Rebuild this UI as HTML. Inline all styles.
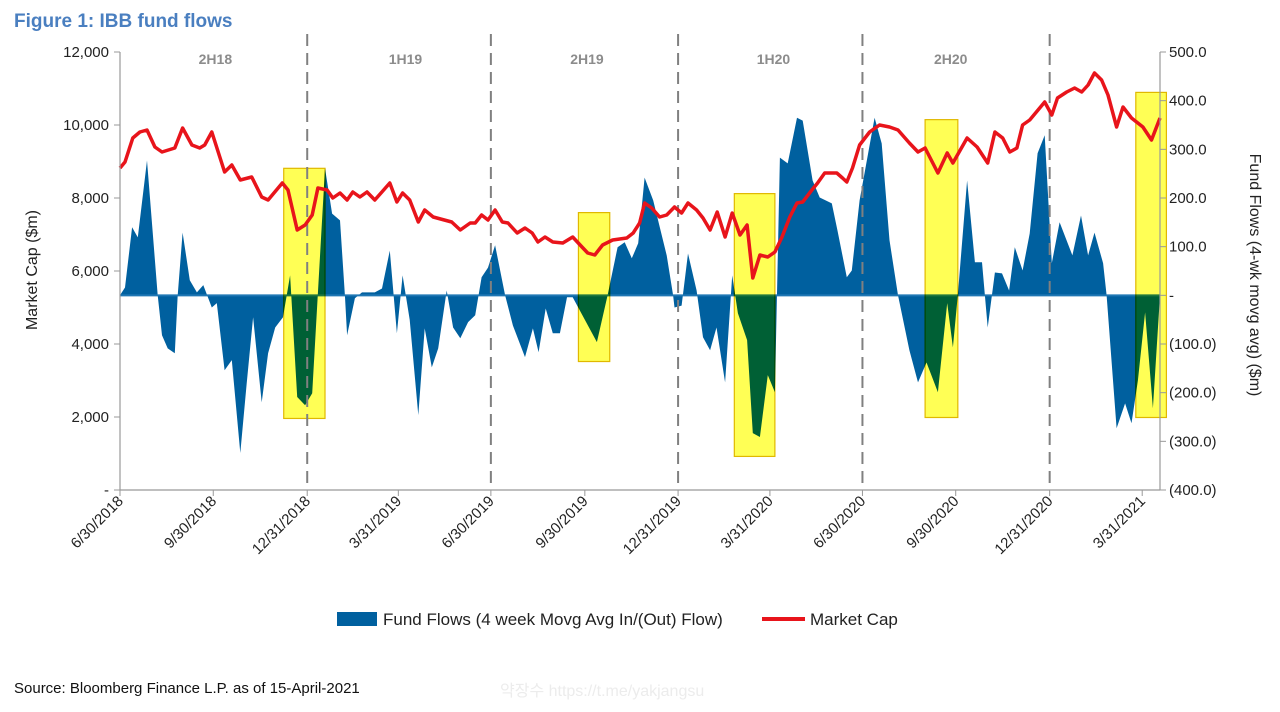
<!DOCTYPE html>
<html><head><meta charset="utf-8"><style>
body{margin:0;background:#fff;width:1280px;height:707px;overflow:hidden;font-family:"Liberation Sans",sans-serif}
</style></head><body>
<svg id="chart" width="1280" height="707" xmlns="http://www.w3.org/2000/svg">
<text x="14" y="27" font-family="Liberation Sans Narrow, Liberation Sans, sans-serif" font-weight="bold" font-size="19" fill="#4a7fc0">Figure 1: IBB fund flows</text>
<g id="plot"></g>
<text transform="translate(37,270) rotate(-90)" text-anchor="middle" font-size="16" fill="#222">Market Cap ($m)</text>
<text transform="translate(1250,275) rotate(90)" text-anchor="middle" font-size="16" fill="#222">Fund Flows (4-wk movg avg) ($m)</text>
<g>
<rect x="337" y="612" width="40" height="14" fill="#00609f"/>
<text x="383" y="625" font-size="17" fill="#222">Fund Flows (4 week Movg Avg In/(Out) Flow)</text>
<line x1="762" y1="619" x2="805" y2="619" stroke="#e8141b" stroke-width="4"/>
<text x="810" y="625" font-size="17" fill="#222">Market Cap</text>
</g>
<text x="14" y="693" font-family="Liberation Sans Narrow, Liberation Sans, sans-serif" font-size="15" fill="#111">Source: Bloomberg Finance L.P. as of 15-April-2021</text>
<text x="500" y="696" font-family="Liberation Sans, Noto Sans CJK KR, sans-serif" font-size="16" fill="#ececec">약장수 https://t.me/yakjangsu</text>
</svg>
<script>
// weeks since 6/30/2018
const flowWeeks=[0,0.7,1.7,2.5,3.8,5.3,5.9,6.7,7.7,8.1,8.8,9.8,10.8,11.7,12.9,13.6,14.7,15.7,16.9,17.8,18.7,19.9,20.8,21.8,22.9,23.9,24.9,26.0,27.0,28.8,29.8,30.9,31.6,31.9,33.0,34.0,35.8,36.8,37.9,38.9,39.7,40.7,41.9,42.8,43.8,44.7,45.9,46.8,47.8,48.9,49.9,50.8,51.7,52.7,54.1,55.2,56.9,58.0,58.8,59.8,60.8,61.8,62.8,63.6,67.0,68.5,69.9,70.9,71.9,72.8,73.7,74.9,76.8,77.7,77.9,78.9,79.8,81.0,81.9,82.9,83.8,85.0,86.0,86.8,88.1,88.9,89.9,91.0,92.0,92.7,93.8,95.1,95.9,97.3,98.3,100.0,100.8,102.1,102.8,103.9,106.0,107.0,108.1,109.3,110.9,112.1,113.3,114.9,116.2,117.0,117.7,119.0,120.1,121.1,121.9,122.9,123.9,124.9,125.7,126.8,127.8,128.9,129.9,130.9,132.0,133.8,135.0,136.0,136.9,138.1,138.6,140.0,141.2,142.1,143.0,144.0,145.1,146.1];
const flowValues=[0,16,140,119,277,0,-82,-109,-119,0,129,31,6,21,-25,-16,-154,-133,-324,-181,-45,-220,-119,-66,-45,41,-209,-226,-201,261,168,154,0,-82,-6,6,6,14,92,-78,41,-50,-246,-68,-148,-109,10,-66,-88,-55,-41,37,57,103,0,-62,-127,-68,-117,-27,-78,-78,-4,-4,-96,0,99,109,76,107,242,195,82,0,-25,-21,86,10,-86,-113,-66,-179,41,-37,-92,-283,-291,-164,-199,283,271,365,359,236,201,189,133,37,51,195,365,312,113,0,-113,-179,-138,-199,-16,-107,0,236,68,68,-66,47,45,10,99,51,127,292,329,66,150,82,164,82,129,66,0,-273,-222,-263,-175,-35,-232,0];
const capWeeks=[0,0.7,1.8,2.8,3.8,4.9,5.9,7.7,8.8,10.1,11.2,11.9,12.9,14.7,15.7,16.9,18.5,19.9,20.8,22.8,23.6,24.9,26.0,27.0,27.8,29.1,29.9,30.9,31.9,32.7,33.7,34.7,35.8,37.9,38.9,39.7,40.7,41.9,42.8,44.0,46.6,47.8,49.2,49.9,50.8,51.7,52.7,53.7,54.5,55.8,56.9,57.9,58.7,59.7,60.8,62.2,63.6,64.9,65.7,66.7,67.8,69.2,71.2,72.1,73.0,73.7,74.7,75.8,76.8,77.9,78.9,79.8,81.0,81.9,82.9,83.9,85.0,86.0,87.1,88.1,88.9,89.9,91.0,92.0,93.0,94.1,95.1,95.9,97.2,98.0,99.0,100.7,101.5,102.1,102.9,103.9,105.3,106.7,108.1,109.3,110.9,112.1,113.1,114.9,116.2,117.0,119.0,120.4,121.9,122.9,124.0,125.0,126.0,126.8,127.8,129.9,130.9,131.7,133.0,134.1,135.1,136.0,136.9,137.9,138.8,140.0,140.9,142.1,143.7,144.9,146.1];
const capValues=[8822,8986,9644,9808,9863,9397,9260,9370,9918,9452,9370,9452,9808,8712,8904,8493,8575,8027,7945,8411,8219,7123,7260,7534,8274,8219,8000,8137,7945,8164,8027,8164,7945,8411,7890,8137,7945,7342,7671,7479,7342,7123,7315,7315,7534,7397,7671,7342,7315,7041,7178,7041,6795,6932,6795,6767,6932,6658,6493,6438,6712,6849,6904,7041,7315,7863,7726,7479,7534,7753,7589,7863,7671,7452,7123,7616,6932,7589,6986,7260,5808,6438,6384,6521,6932,7479,7863,7890,8219,8411,8685,8685,8548,8438,8822,9452,9808,10000,9945,9863,9507,9260,9370,8685,9233,8959,9644,9397,8959,9808,9644,9260,9370,10000,10137,10630,10274,10740,10904,11014,10904,11096,11425,11233,10822,9945,10493,10192,9945,9589,10192];
const leftTicks=[0,2000,4000,6000,8000,10000,12000];
const leftTickLabels=["-","2,000","4,000","6,000","8,000","10,000","12,000"];
const rightTicks=[-400,-300,-200,-100,0,100,200,300,400,500];
const rightTickLabels=["(400.0)","(300.0)","(200.0)","(100.0)","-","100.0","200.0","300.0","400.0","500.0"];
const dateWeeks=[0,13.1,26.3,39.1,52.1,65.3,78.4,91.3,104.3,117.4,130.6,143.6];
const dateLabels=["6/30/2018","9/30/2018","12/31/2018","3/31/2019","6/30/2019","9/30/2019","12/31/2019","3/31/2020","6/30/2020","9/30/2020","12/31/2020","3/31/2021"];
const dividerWeeks=[26.3,52.1,78.4,104.3,130.6];
const periodWeeks=[13.4,40.1,65.6,91.8,116.7];
const periodLabels=["2H18","1H19","2H19","1H20","2H20"];
const boxStart=[23.0,64.4,86.3,113.1,142.7];
const boxEnd=[28.8,68.8,92.0,117.7,147.0];
const boxTop=[261,170,209,361,417];
const boxBottom=[-253,-136,-331,-251,-251];

const X0=120,X1=1160,YT=52,YB=490,WMAX=146.1;
const xs=w=>X0+w*(X1-X0)/WMAX;
const yl=v=>YB-v*(YB-YT)/12000;
const yr=v=>YB-(v+400)*(YB-YT)/900;
const NS="http://www.w3.org/2000/svg";
const plot=document.getElementById('plot');
function mk(tag,attrs,parent){const e=document.createElementNS(NS,tag);for(const k in attrs)e.setAttribute(k,attrs[k]);(parent||plot).appendChild(e);return e;}

let d=`M${xs(flowWeeks[0])},${yr(0)}`;
flowWeeks.forEach((w,i)=>{d+=` L${xs(w).toFixed(1)},${yr(flowValues[i]).toFixed(1)}`;});
d+=` L${xs(flowWeeks[flowWeeks.length-1])},${yr(0)} Z`;
const area=mk('path',{d:d,fill:'#00609f',stroke:'none'});


const zl=mk('line',{x1:X0,x2:X1,y1:yr(0),y2:yr(0),stroke:'#1f77b4','stroke-width':2});



boxStart.forEach((s,i)=>{
  const r=mk('rect',{x:xs(s),y:yr(boxTop[i]),width:xs(boxEnd[i])-xs(s),height:yr(boxBottom[i])-yr(boxTop[i]),fill:'#ffff55',stroke:'#e0b800','stroke-width':1.2,style:'mix-blend-mode:multiply'});
  
  
});

dividerWeeks.forEach(w=>{
  const l=mk('line',{x1:xs(w),x2:xs(w),y1:34,y2:YB,stroke:'#808080','stroke-width':2,'stroke-dasharray':'12,7'});
  
  
});
periodWeeks.forEach((w,i)=>{
  const t=mk('text',{x:xs(w),y:64,'text-anchor':'middle','font-size':14,'font-weight':'bold',fill:'#8c8c8c'});
  t.textContent=periodLabels[i];
  
  
});

let p='';
capWeeks.forEach((w,i)=>{p+=(i?' L':'M')+xs(w).toFixed(1)+','+yl(capValues[i]).toFixed(1);});
const line=mk('path',{d:p,fill:'none',stroke:'#e8141b','stroke-width':3.5,'stroke-linejoin':'round'});



const ax=[[X0,YT,X0,YB],[X1,YT,X1,YB],[X0,YB,X1,YB]];
ax.forEach(a=>{const l=mk('line',{x1:a[0],y1:a[1],x2:a[2],y2:a[3],stroke:'#999','stroke-width':1.2});

});
leftTicks.forEach((v,i)=>{
  const l=mk('line',{x1:X0-6,x2:X0,y1:yl(v),y2:yl(v),stroke:'#999'});
  
  
  const t=mk('text',{x:X0-11,y:yl(v)+5,'text-anchor':'end','font-size':15,fill:'#222'});
  t.textContent=leftTickLabels[i];
  
  
});
rightTicks.forEach((v,i)=>{
  const l=mk('line',{x1:X1,x2:X1+6,y1:yr(v),y2:yr(v),stroke:'#999'});
  
  
  const t=mk('text',{x:X1+9,y:yr(v)+5,'font-size':15,fill:'#222'});
  t.textContent=rightTickLabels[i];
  
  
});
dateWeeks.forEach((w,i)=>{
  const x=xs(w);
  const l=mk('line',{x1:x,x2:x,y1:YB,y2:YB+6,stroke:'#999'});
  
  
  const t=mk('text',{transform:`translate(${x+4},${YB+12}) rotate(-45)`,'text-anchor':'end','font-size':15,fill:'#222'});
  t.textContent=dateLabels[i];
  
  
});
</script>
</body></html>
